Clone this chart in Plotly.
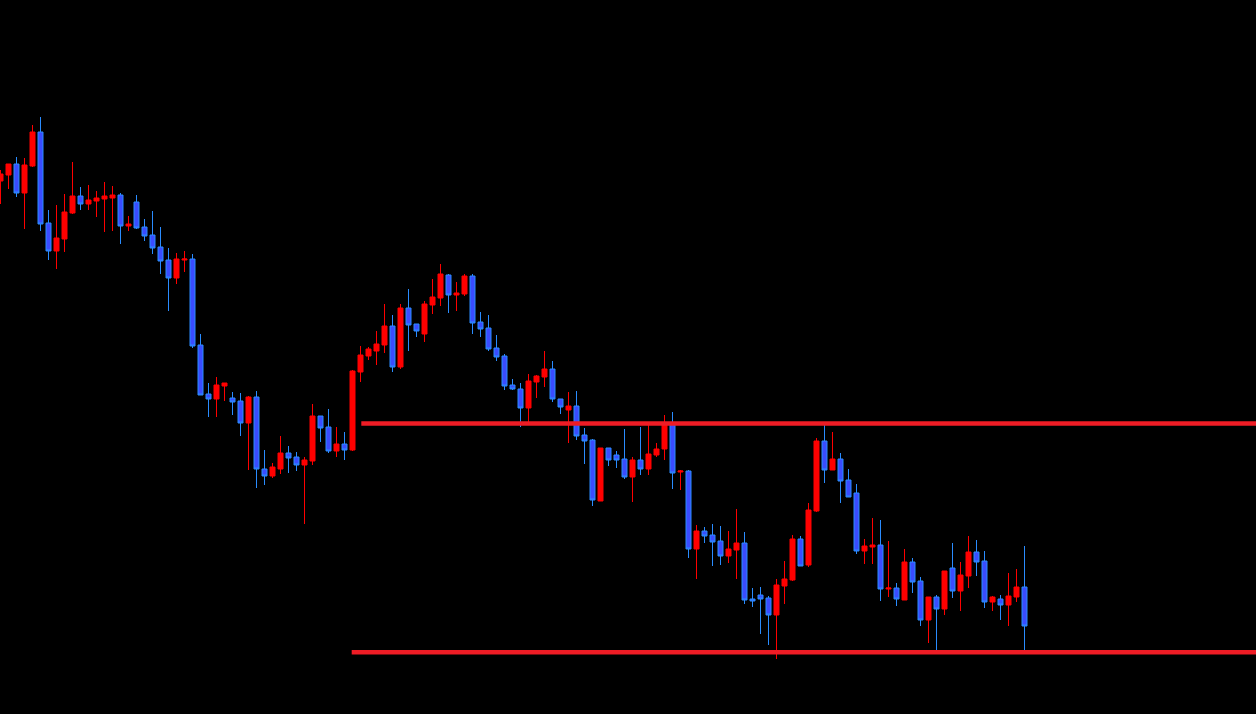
import plotly.graph_objects as go

# OHLC data (price units), one candle per bar index 0..128
open_ = [148.19,148.25,148.36,148.07,148.34,148.68,147.77,147.49,147.61,147.87,
         148.04,147.96,147.99,148.01,148.02,148.05,147.74,147.98,147.73,147.65,
         147.53,147.40,147.22,147.40,147.41,146.55,146.06,146.01,146.14,146.02,
         145.99,145.77,146.03,145.31,145.24,145.31,145.47,145.43,145.35,145.39,
         145.84,145.73,145.49,145.56,145.50,146.28,146.44,146.49,146.55,146.74,
         146.33,146.92,146.76,146.66,146.95,147.02,147.25,147.05,147.06,147.24,
         146.78,146.72,146.52,146.44,146.15,146.11,145.92,146.18,146.23,146.31,
         146.01,145.90,145.94,145.65,145.60,144.99,145.52,145.45,145.41,145.23,
         145.40,145.31,145.45,145.51,145.76,145.28,145.29,144.51,144.69,144.65,
         144.59,144.44,144.50,144.57,144.01,144.05,144.02,143.85,144.14,144.20,
         144.61,144.35,144.89,145.59,145.30,145.41,145.20,145.07,144.49,144.53,
         144.55,144.11,144.12,144.00,144.38,144.19,143.80,144.03,143.91,144.32,
         144.09,144.24,144.48,144.39,143.98,144.01,143.95,144.03,144.13]
high = [148.30,148.36,148.43,148.42,148.75,148.83,147.90,147.95,148.06,148.38,
        148.13,148.15,148.09,148.18,148.14,148.07,147.84,148.05,147.81,147.89,
        147.73,147.52,147.47,147.49,147.46,146.66,146.17,146.23,146.17,146.08,
        146.07,146.04,146.09,145.50,145.37,145.64,145.54,145.48,145.43,145.96,
        145.84,145.91,145.73,145.68,146.30,146.54,146.53,146.69,146.96,146.85,
        146.96,147.11,146.76,146.99,147.21,147.36,147.26,147.18,147.26,147.26,
        146.88,146.85,146.65,146.46,146.21,146.17,146.26,146.25,146.49,146.39,
        146.01,146.08,146.09,145.72,145.61,145.52,145.52,145.49,145.71,145.43,
        145.73,145.77,145.57,145.85,145.88,145.30,145.30,144.75,144.73,144.76,
        144.74,144.69,144.91,144.68,144.12,144.13,144.04,144.21,144.39,144.65,
        144.64,144.97,145.62,145.75,145.68,145.47,145.31,145.16,144.61,144.82,
        144.80,144.59,144.17,144.51,144.42,144.23,144.03,144.05,144.29,144.57,
        144.38,144.64,144.60,144.49,144.04,144.05,144.27,144.31,144.54]
low = [147.96,148.11,148.03,147.71,148.33,147.69,147.40,147.31,147.48,147.86,
       147.90,147.90,147.83,147.68,147.69,147.56,147.69,147.71,147.59,147.46,
       147.26,146.89,147.16,147.28,146.52,146.05,145.83,145.83,145.99,145.85,
       145.64,145.30,145.12,145.15,145.22,145.26,145.27,145.29,144.76,145.35,
       145.58,145.47,145.43,145.40,145.49,146.18,146.40,146.35,146.47,146.28,
       146.31,146.49,146.63,146.58,146.86,146.94,146.87,146.89,147.04,146.66,
       146.63,146.49,146.39,146.10,146.10,145.73,145.78,146.02,146.13,145.98,
       145.86,145.57,145.60,145.36,144.94,144.99,145.34,145.32,145.21,144.98,
       145.25,145.25,145.43,145.40,145.11,145.10,144.42,144.21,144.57,144.34,
       144.35,144.37,144.21,143.96,143.93,143.66,143.55,143.41,143.96,144.19,
       144.34,144.33,144.88,145.17,145.30,144.97,145.03,144.46,144.36,144.36,
       143.99,144.03,143.94,144.00,144.07,143.74,143.57,143.50,143.85,144.02,
       143.89,144.12,144.24,143.92,143.89,143.80,143.74,143.98,143.50]
close = [148.26,148.36,148.07,148.35,148.68,147.76,147.49,147.62,147.88,148.04,
         147.96,148.00,148.02,148.04,148.05,147.74,147.76,147.72,147.64,147.52,
         147.39,147.22,147.41,147.41,146.54,146.05,146.01,146.15,146.17,145.98,
         145.77,146.03,145.31,145.24,145.33,145.47,145.42,145.35,145.40,145.84,
         145.72,145.49,145.56,145.50,146.29,146.45,146.51,146.56,146.74,146.33,
         146.92,146.75,146.69,146.96,147.03,147.26,147.05,147.07,147.24,146.77,
         146.71,146.51,146.43,146.14,146.11,145.92,146.19,146.24,146.31,146.01,
         145.93,145.94,145.64,145.59,145.00,145.52,145.40,145.40,145.23,145.40,
         145.31,145.46,145.51,145.76,145.27,145.29,144.51,144.69,144.64,144.58,
         144.44,144.51,144.57,144.00,143.99,144.01,143.85,144.15,144.21,144.61,
         144.34,144.90,145.59,145.30,145.41,145.19,145.03,144.49,144.54,144.55,
         144.11,144.12,144.01,144.38,144.18,143.80,144.03,143.91,144.29,144.09,
         144.25,144.48,144.38,143.98,144.03,143.95,144.04,144.13,143.74]
bars = list(range(len(close)))

# Horizontal levels: (price, starting bar)
level_prices = [145.765, 143.477]
level_starts = [45.1, 43.9]

fig = go.Figure(go.Candlestick(
    x=bars, open=open_, high=high, low=low, close=close,
    increasing=dict(line=dict(color="#ff0000", width=1), fillcolor="#ff0000"),
    decreasing=dict(line=dict(color="#2a8cff", width=1), fillcolor="#3a4cff"),
    whiskerwidth=0, showlegend=False, hoverinfo="skip",
))

for p, s in zip(level_prices, level_starts):
    fig.add_shape(type="line", xref="x", yref="y", x0=s, x1=200, y0=p, y1=p,
                  line=dict(color="#ee1c25", width=4.5), layer="above")

fig.update_layout(
    width=1256, height=714,
    margin=dict(l=0, r=0, t=0, b=0),
    paper_bgcolor="#000000", plot_bgcolor="#000000",
    boxgap=0.375, boxgroupgap=0,
    hovermode=False, dragmode=False,
    xaxis=dict(range=[-0.0625, 156.9375], visible=False,
               rangeslider=dict(visible=False), showgrid=False, zeroline=False),
    yaxis=dict(range=[142.86, 150.0], visible=False, showgrid=False, zeroline=False),
)

fig.write_html(
    "out.html",
    config={"displayModeBar": False, "staticPlot": True},
    post_script="document.body.style.margin='0';document.body.style.background='#000';",
)
